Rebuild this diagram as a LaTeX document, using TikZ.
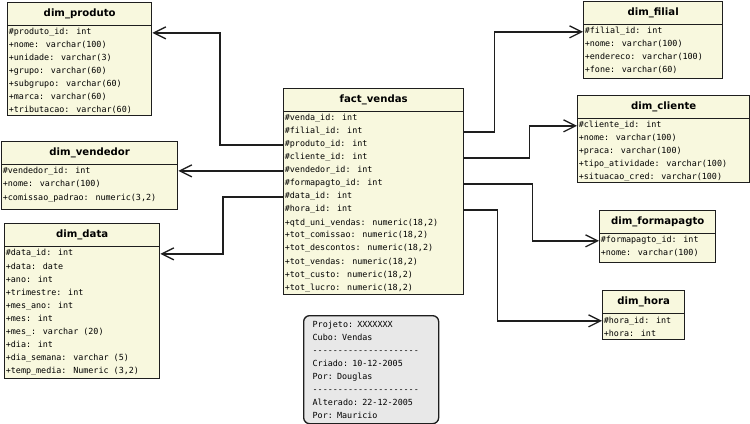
\documentclass[tikz,border=0pt]{standalone}
\usepackage{fontspec}
\newfontfamily\rowfont{DejaVu Sans Mono}[Ligatures=TeXOff]
\newfontfamily\headfont{DejaVu Sans}
\usetikzlibrary{arrows.meta}
\definecolor{tabfill}{RGB}{248,248,222}
\definecolor{notefill}{RGB}{232,232,232}
\definecolor{tabline}{RGB}{30,30,30}

\tikzset{every picture/.style={line width=0.75pt}}
\tikzset{
  tabbox/.style={draw=tabline, fill=tabfill, line width=1pt, anchor=north west, inner sep=0pt},
  tabhead/.style={draw=tabline, line width=1pt, anchor=north west, inner sep=0pt, minimum height=16.9pt,
    font=\headfont\bfseries\fontsize{7.6}{9}\selectfont},
  tabrow/.style={anchor=north west, inner xsep=1pt, inner ysep=0pt, minimum height=9.75pt,
    text height=4.6pt, text depth=1.4pt, font=\rowfont\fontsize{6.3}{9.75}\selectfont},
  notebox/.style={draw=tabline, fill=notefill, line width=1pt, rounded corners=4.5pt, anchor=north west,
    inner xsep=6.75pt, text width=87.75pt, minimum height=81pt, align=left,
    font=\rowfont\fontsize{6.3}{9.7}\selectfont},
  fk/.style={draw=tabline, line width=1pt, -{Straight Barb[length=9pt,width=9pt]}}
}

\begin{document}
\begin{tikzpicture}[x=0.75pt,y=0.75pt,yscale=-1,xscale=1]
\useasboundingbox (0,0) rectangle (750,424);

% dim_produto
\node [tabbox, minimum width=108pt, minimum height=84.75pt] (produto) at (7,2) {};
\node [tabhead, minimum width=108pt] (produto-h) at (produto.north west) {dim\_produto};
\foreach \r [count=\i] in {\#produto\_id: int, +nome: varchar(100), +unidade: varchar(3), +grupo: varchar(60),
    +subgrupo: varchar(60), +marca: varchar(60), +tributacao: varchar(60)}
  \node [tabrow] (produto-\i) at ([yshift={9.75*(\i-1)}]produto-h.south west) {\r};

% dim_vendedor
\node [tabbox, minimum width=132pt, minimum height=51pt] (vendedor) at (1,141) {};
\node [tabhead, minimum width=132pt] (vendedor-h) at (vendedor.north west) {dim\_vendedor};
\foreach \r [count=\i] in {\#vendedor\_id: int, +nome: varchar(100), {+comissao\_padrao: numeric(3,2)}}
  \node [tabrow] (vendedor-\i) at ([yshift={9.75*(\i-1)}]vendedor-h.south west) {\r};

% dim_data
\node [tabbox, minimum width=116.25pt, minimum height=116.25pt] (data) at (4,223) {};
\node [tabhead, minimum width=116.25pt] (data-h) at (data.north west) {dim\_data};
\foreach \r [count=\i] in {\#data\_id: int, +data: date, +ano: int, +trimestre: int, +mes\_ano: int,
    +mes: int, +mes\_: varchar (20), +dia: int, +dia\_semana: varchar (5), {+temp\_media: Numeric (3,2)}}
  \node [tabrow] (data-\i) at ([yshift={9.75*(\i-1)}]data-h.south west) {\r};

% fact_vendas
\node [tabbox, minimum width=135pt, minimum height=154.5pt] (fact) at (283,88) {};
\node [tabhead, minimum width=135pt] (fact-h) at (fact.north west) {fact\_vendas};
\foreach \r [count=\i] in {\#venda\_id: int, \#filial\_id: int, \#produto\_id: int, \#cliente\_id: int,
    \#vendedor\_id: int, \#formapagto\_id: int, \#data\_id: int, \#hora\_id: int,
    {+qtd\_uni\_vendas: numeric(18,2)}, {+tot\_comissao: numeric(18,2)}, {+tot\_descontos: numeric(18,2)},
    {+tot\_vendas: numeric(18,2)}, {+tot\_custo: numeric(18,2)}, {+tot\_lucro: numeric(18,2)}}
  \node [tabrow] (fact-\i) at ([yshift={9.75*(\i-1)}]fact-h.south west) {\r};

% dim_filial
\node [tabbox, minimum width=104.25pt, minimum height=57.75pt] (filial) at (583,1) {};
\node [tabhead, minimum width=104.25pt] (filial-h) at (filial.north west) {dim\_filial};
\foreach \r [count=\i] in {\#filial\_id: int, +nome: varchar(100), +endereco: varchar(100), +fone: varchar(60)}
  \node [tabrow] (filial-\i) at ([yshift={9.75*(\i-1)}]filial-h.south west) {\r};

% dim_cliente
\node [tabbox, minimum width=129pt, minimum height=65.25pt] (cliente) at (577,95) {};
\node [tabhead, minimum width=129pt] (cliente-h) at (cliente.north west) {dim\_cliente};
\foreach \r [count=\i] in {\#cliente\_id: int, +nome: varchar(100), +praca: varchar(100),
    +tipo\_atividade: varchar(100), +situacao\_cred: varchar(100)}
  \node [tabrow] (cliente-\i) at ([yshift={9.75*(\i-1)}]cliente-h.south west) {\r};

% dim_formapagto
\node [tabbox, minimum width=87pt, minimum height=39pt] (formapagto) at (599,210) {};
\node [tabhead, minimum width=87pt] (formapagto-h) at (formapagto.north west) {dim\_formapagto};
\foreach \r [count=\i] in {\#formapagto\_id: int, +nome: varchar(100)}
  \node [tabrow] (formapagto-\i) at ([yshift={9.75*(\i-1)}]formapagto-h.south west) {\r};

% dim_hora
\node [tabbox, minimum width=61.5pt, minimum height=36.75pt] (hora) at (602,290) {};
\node [tabhead, minimum width=61.5pt] (hora-h) at (hora.north west) {dim\_hora};
\foreach \r [count=\i] in {\#hora\_id: int, +hora: int}
  \node [tabrow] (hora-\i) at ([yshift={9.75*(\i-1)}]hora-h.south west) {\r};

% Note
\node [notebox] (note) at (303,315) {Projeto: XXXXXXX\\ Cubo: Vendas\\ ---------------------\\
  Criado: 10-12-2005\\ Por: Douglas\\ ---------------------\\ Alterado: 22-12-2005\\ Por: Mauricio};

% Foreign keys
\draw [fk] (fact-3.west) -- ++(-63,0) |- (produto-1 -| produto.east);
\draw [fk] (fact-5.west) -- (fact-5 -| vendedor.east);
\draw [fk] (fact-7.west) -- ++(-60,0) |- (data-1 -| data.east);
\draw [fk] (fact-2 -| fact.east) -- ++(30,0) |- (filial-1 -| filial.west);
\draw [fk] (fact-4 -| fact.east) -- ++(65,0) |- (cliente-1 -| cliente.west);
\draw [fk] (fact-6 -| fact.east) -- ++(68,0) |- (formapagto-1 -| formapagto.west);
\draw [fk] (fact-8 -| fact.east) -- ++(33,0) |- (hora-1 -| hora.west);

\end{tikzpicture}
\end{document}
